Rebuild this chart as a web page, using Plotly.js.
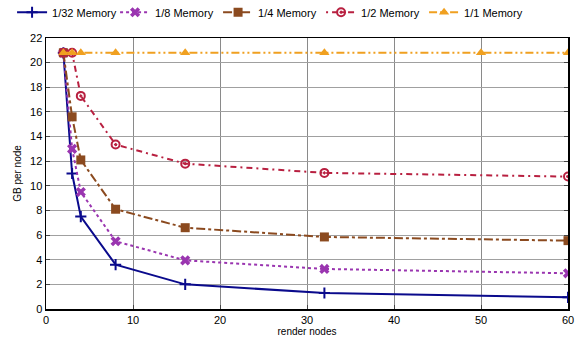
<!DOCTYPE html>
<html><head><meta charset="utf-8">
<script src="https://cdn.plot.ly/plotly-3.0.1.min.js"></script>
<style>body{margin:0;background:#fff}#c{width:579px;height:345px}</style>
</head><body><div id="c"></div>
<script>
const xNodes = [2, 3, 4, 8, 16, 32, 60];
const xFull = [2, 3, 4, 8, 16, 32, 50, 60];
const mem32 = [20.8, 11.0, 7.5, 3.6, 2.0, 1.3, 0.95];
const mem8 = [20.8, 13.0, 9.5, 5.5, 3.95, 3.25, 2.9];
const mem4 = [20.8, 15.6, 12.1, 8.1, 6.6, 5.85, 5.55];
const mem2 = [20.8, 20.8, 17.3, 13.35, 11.8, 11.05, 10.75];
const mem1 = [20.8, 20.8, 20.8, 20.8, 20.8, 20.8, 20.8, 20.8];
const names = ['1/32 Memory', '1/8 Memory', '1/4 Memory', '1/2 Memory', '1/1 Memory'];

const traces = [
  {x: xNodes, y: mem32, name: names[0], mode: 'lines+markers',
   line: {color: '#0a0a8c', width: 2, dash: 'solid'},
   marker: {symbol: 'cross-thin', size: 8, line: {color: '#0a0a8c', width: 2}}},
  {x: xNodes, y: mem8, name: names[1], mode: 'lines+markers',
   line: {color: '#9a35b0', width: 2, dash: 'dot'},
   marker: {symbol: 'x', size: 9, color: '#9a35b0', line: {color: '#9a35b0', width: 0}}},
  {x: xNodes, y: mem4, name: names[2], mode: 'lines+markers',
   line: {color: '#8b4a1f', width: 2, dash: 'dashdot'},
   marker: {symbol: 'square', size: 9, color: '#8b4a1f'}},
  {x: xNodes, y: mem2, name: names[3], mode: 'lines+markers',
   line: {color: '#b82040', width: 2, dash: '2px,4px,6px,4px'},
   marker: {symbol: 'circle-open-dot', size: 8, color: '#b82040', line: {width: 2}}},
  {x: xFull, y: mem1, name: names[4], mode: 'lines+markers',
   line: {color: '#f0a020', width: 2, dash: '8px,3px,2px,3px,2px,3px'},
   marker: {symbol: 'triangle-up', size: 9, color: '#f0a020'}}
];

const layout = {
  width: 579, height: 345,
  margin: {l: 46, r: 11, t: 38, b: 36, autoexpand: false},
  paper_bgcolor: '#fff', plot_bgcolor: '#fff',
  font: {family: 'Liberation Sans, Arial, sans-serif', size: 11, color: '#000'},
  showlegend: true,
  legend: {orientation: 'h', x: -0.065, xanchor: 'left', y: 1.095, yanchor: 'middle',
           font: {size: 11}, entrywidth: 58, entrywidthmode: 'pixels', itemwidth: 30},
  xaxis: {range: [0, 60], dtick: 10, showgrid: true, gridcolor: '#8a8a8a', gridwidth: 1,
          showline: true, linecolor: '#000', linewidth: 1.5, mirror: true,
          ticks: 'inside', ticklen: 4, zeroline: false,
          title: {text: 'render nodes', font: {size: 10}, standoff: 2}},
  yaxis: {range: [0, 22], dtick: 2, showgrid: true, gridcolor: '#a0a0a0', gridwidth: 1,
          showline: true, linecolor: '#000', linewidth: 1.5, mirror: 'ticks',
          ticks: 'inside', ticklen: 4, zeroline: false,
          title: {text: 'GB per node', font: {size: 10}, standoff: 6}}
};
Plotly.newPlot('c', traces, layout, {displayModeBar: false, staticPlot: true});
</script></body></html>
